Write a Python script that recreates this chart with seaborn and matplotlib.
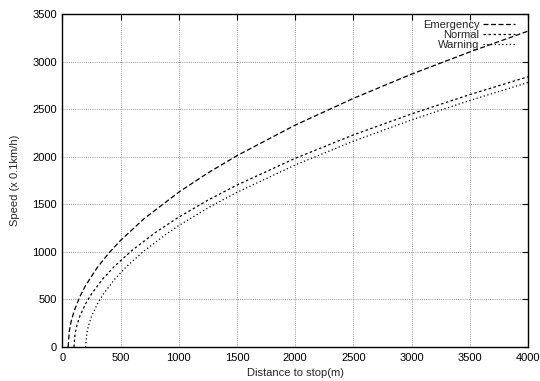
import pandas as pd
import matplotlib
matplotlib.use('Agg')
import matplotlib.pyplot as plt
import seaborn as sns

# valores (distancia em m, velocidade em 0.1km/h)
emerg_dist = [50, 60, 75, 100, 150, 200, 300, 400, 500, 700, 1000, 1250, 1500, 2000, 2500, 3000, 3500, 4000]
emerg_speed = [0, 167, 264, 373, 528, 647, 835, 988, 1120, 1346, 1627, 1829, 2011, 2332, 2613, 2868, 3101, 3320]

normal_dist = [100, 110, 125, 150, 200, 250, 350, 450, 600, 800, 1000, 1250, 1500, 2000, 2500, 3000, 3500, 4000]
normal_speed = [0, 144, 228, 322, 455, 557, 719, 851, 1017, 1204, 1365, 1543, 1702, 1983, 2229, 2450, 2653, 2840]

warn_dist = [200, 210, 225, 250, 300, 350, 450, 550, 700, 900, 1000, 1250, 1500, 2000, 2500, 3000, 3500, 4000]
warn_speed = [0, 143, 225, 319, 451, 552, 713, 844, 1008, 1193, 1276, 1461, 1626, 1913, 2163, 2387, 2591, 2780]

x_ticks = [0, 500, 1000, 1500, 2000, 2500, 3000, 3500, 4000]
y_ticks = [0, 500, 1000, 1500, 2000, 2500, 3000, 3500]

sns.set_style('white')
plt.rcParams['font.family'] = ['Liberation Sans', 'DejaVu Sans']
plt.rcParams['font.size'] = 8

fig = plt.figure(figsize=(5.4, 3.81), dpi=100)
ax = fig.add_axes([0.1154, 0.0892, 0.8624, 0.8741])

series = [
    ('Emergency', emerg_dist, emerg_speed, (0, (4, 2))),
    ('Normal', normal_dist, normal_speed, (0, (2, 2))),
    ('Warning', warn_dist, warn_speed, (0, (1, 2))),
]
for name, d, s, ls in series:
    df = pd.DataFrame({'dist': d, 'speed': s})
    sns.lineplot(data=df, x='dist', y='speed', ax=ax, color='black',
                 linewidth=0.9, linestyle=ls, label=name)

ax.set_xlim(0, 4000)
ax.set_ylim(0, 3500)
ax.set_xticks(x_ticks)
ax.set_yticks(y_ticks)
ax.set_xlabel('Distance to stop(m)', labelpad=4)
ax.set_ylabel('Speed (x 0.1km/h)', labelpad=9)

ax.grid(True, color='#999999', linestyle=(0, (1, 1.2)), linewidth=0.7)
ax.set_axisbelow(True)
ax.tick_params(direction='in', length=4, width=0.8, top=True, right=True,
               colors='black', labelsize=8, pad=4)
for sp in ax.spines.values():
    sp.set_visible(True)
    sp.set_color('black')
    sp.set_linewidth(1.0)

# legenda estilo gnuplot: texto alinhado a direita, amostra depois
leg = ax.legend(loc='upper right', bbox_to_anchor=(0.972, 0.982),
                markerfirst=False, frameon=False,
                handlelength=2.9, handletextpad=0.3, labelspacing=0.0,
                borderaxespad=0.0, borderpad=0.0, fontsize=8)

plt.savefig('out.png', dpi=100, facecolor='white')
